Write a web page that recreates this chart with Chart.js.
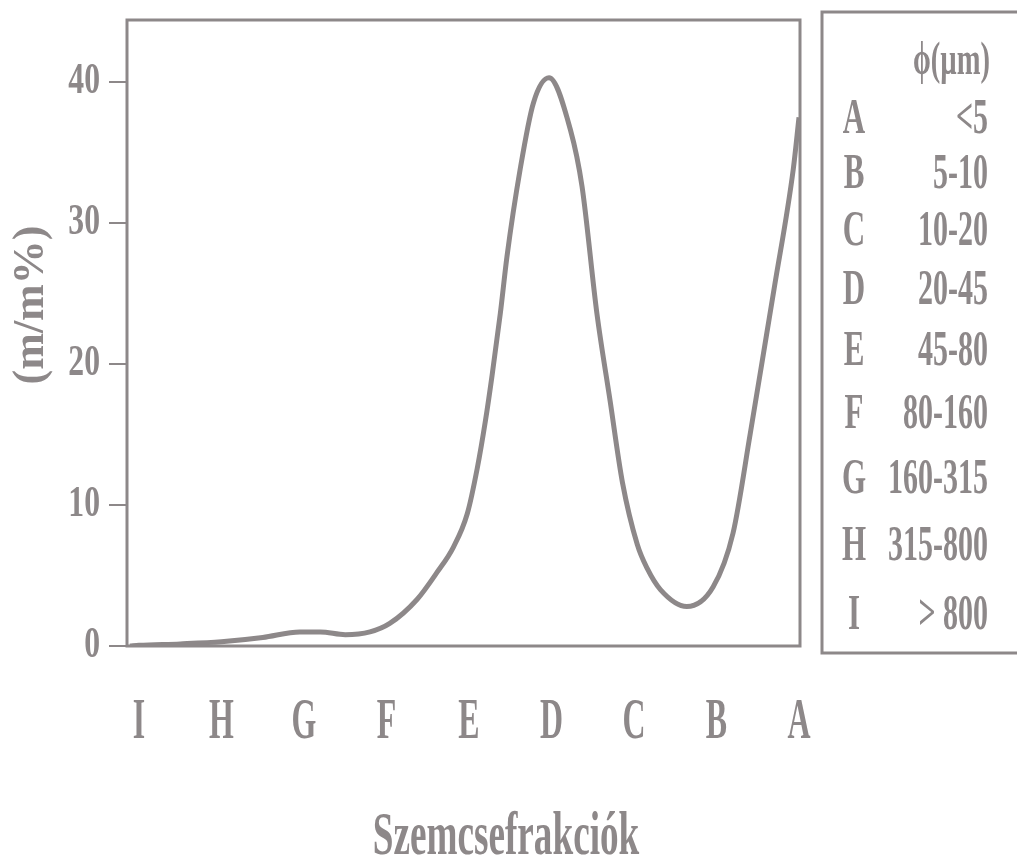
<!DOCTYPE html>
<html>
<head>
<meta charset="utf-8">
<script src="https://cdn.jsdelivr.net/npm/chart.js@4.4.1/dist/chart.umd.min.js"></script>
<style>
  html, body { margin: 0; padding: 0; background: #ffffff; }
  #wrap { width: 1017px; height: 864px; }
</style>
</head>
<body>
<div id="wrap"><canvas id="c" width="1017" height="864"></canvas></div>
<script>
// ---- data ----
const categories = ['I', 'H', 'G', 'F', 'E', 'D', 'C', 'B', 'A'];
const curveX = [-0.11, 0, 0.5, 1, 1.5, 1.95, 2.2, 2.5, 2.8, 3.04, 3.37, 3.61, 3.81, 3.98, 4.10, 4.20, 4.28, 4.38, 4.46, 4.62, 4.78, 4.97, 5.23, 5.37, 5.55, 5.71, 5.86, 6.04, 6.16, 6.32, 6.64, 6.96, 7.20, 7.41, 7.61, 7.70, 7.93, 8.0];
const curveY = [0, 0.05, 0.15, 0.3, 0.6, 1.0, 1.0, 0.8, 1.0, 1.6, 3.3, 5.2, 7.0, 9.4, 12.6, 16.0, 19.2, 23.6, 27.6, 33.8, 38.5, 40.3, 36.6, 32.6, 23.6, 17.4, 11.6, 7.2, 5.5, 4.0, 2.8, 4.2, 8.0, 15.1, 22.2, 25.4, 33.8, 37.5];
const yTickValues = [0, 10, 20, 30, 40];
const yTickLabels = ['0', '10', '20', '30', '40'];
const yAxisTitle = '(m/m%)';
const xAxisTitle = 'Szemcsefrakciók';
const legendHeader = 'ϕ(µm)';
const legendLetters = ['A', 'B', 'C', 'D', 'E', 'F', 'G', 'H', 'I'];
const legendRanges = ['<5', '5-10', '10-20', '20-45', '45-80', '80-160', '160-315', '315-800', '> 800'];

// ---- style ----
const INK = '#8d8889';
const SERIF = '"Liberation Serif", "Times New Roman", serif';

function condensedText(ctx, text, x, y, font, sx, align) {
  ctx.save();
  ctx.font = font;
  ctx.fillStyle = INK;
  ctx.textBaseline = 'middle';
  ctx.textAlign = align;
  ctx.translate(x, y);
  ctx.scale(sx, 1);
  ctx.fillText(text, 0, 0);
  ctx.restore();
}

const decor = {
  id: 'decor',
  afterDraw(chart) {
    const ctx = chart.ctx;
    const a = chart.chartArea;
    const xs = chart.scales.x, ys = chart.scales.y;
    // plot frame
    ctx.save();
    ctx.strokeStyle = INK;
    ctx.lineWidth = 3;
    ctx.strokeRect(a.left, a.top, a.right - a.left, a.bottom - a.top);
    ctx.restore();
    // y tick labels
    yTickValues.forEach((v, i) => {
      condensedText(ctx, yTickLabels[i], 100, ys.getPixelForValue(v), 'bold 44px ' + SERIF, 0.72, 'right');
    });
    // x tick labels
    categories.forEach((c, i) => {
      condensedText(ctx, c, xs.getPixelForValue(i), 723, 'bold 58px ' + SERIF, 0.55, 'center');
    });
    // y axis title (rotated)
    ctx.save();
    ctx.translate(32, 305);
    ctx.rotate(-Math.PI / 2);
    condensedText(ctx, yAxisTitle, 0, 0, 'bold 44px ' + SERIF, 1.0, 'center');
    ctx.restore();
    // x axis title
    condensedText(ctx, xAxisTitle, 506, 838, 'bold 62px ' + SERIF, 0.6, 'center');
    // legend box
    ctx.save();
    ctx.strokeStyle = INK;
    ctx.lineWidth = 3;
    ctx.strokeRect(822, 12, 300, 641);
    ctx.restore();
    condensedText(ctx, legendHeader, 990, 62, 'bold 46px ' + SERIF, 0.62, 'right');
    legendLetters.forEach((L, i) => {
      const y = 120 + 54 * i + 1.0 * i * i;
      condensedText(ctx, L, 854, y, 'bold 50px ' + SERIF, 0.62, 'center');
      condensedText(ctx, legendRanges[i], 988, y, 'bold 50px ' + SERIF, 0.6, 'right');
    });
  }
};

const points = curveX.map((x, i) => ({ x: x, y: curveY[i] }));

new Chart(document.getElementById('c'), {
  type: 'line',
  data: {
    datasets: [{
      data: points,
      borderColor: INK,
      borderWidth: 5,
      pointRadius: 0,
      fill: false,
      cubicInterpolationMode: 'monotone'
    }]
  },
  options: {
    responsive: false,
    animation: false,
    layout: { padding: { top: 20, right: 217, bottom: 0, left: 0 } },
    plugins: { legend: { display: false }, tooltip: { enabled: false }, title: { display: false } },
    scales: {
      x: {
        type: 'linear',
        min: -0.145,
        max: 8.012,
        grid: { display: false },
        border: { display: false },
        ticks: { display: false },
        afterBuildTicks: (s) => { s.ticks = categories.map((c, i) => ({ value: i })); },
        afterFit: (s) => { s.height = 218; }
      },
      y: {
        type: 'linear',
        min: 0,
        max: 44.4,
        grid: { display: true, drawOnChartArea: false, drawTicks: true, tickLength: 18, color: INK, lineWidth: 2 },
        border: { display: false },
        ticks: { display: false },
        afterBuildTicks: (s) => { s.ticks = yTickValues.map(v => ({ value: v })); },
        afterFit: (s) => { s.width = 127; }
      }
    }
  },
  plugins: [decor]
});
</script>
</body>
</html>
